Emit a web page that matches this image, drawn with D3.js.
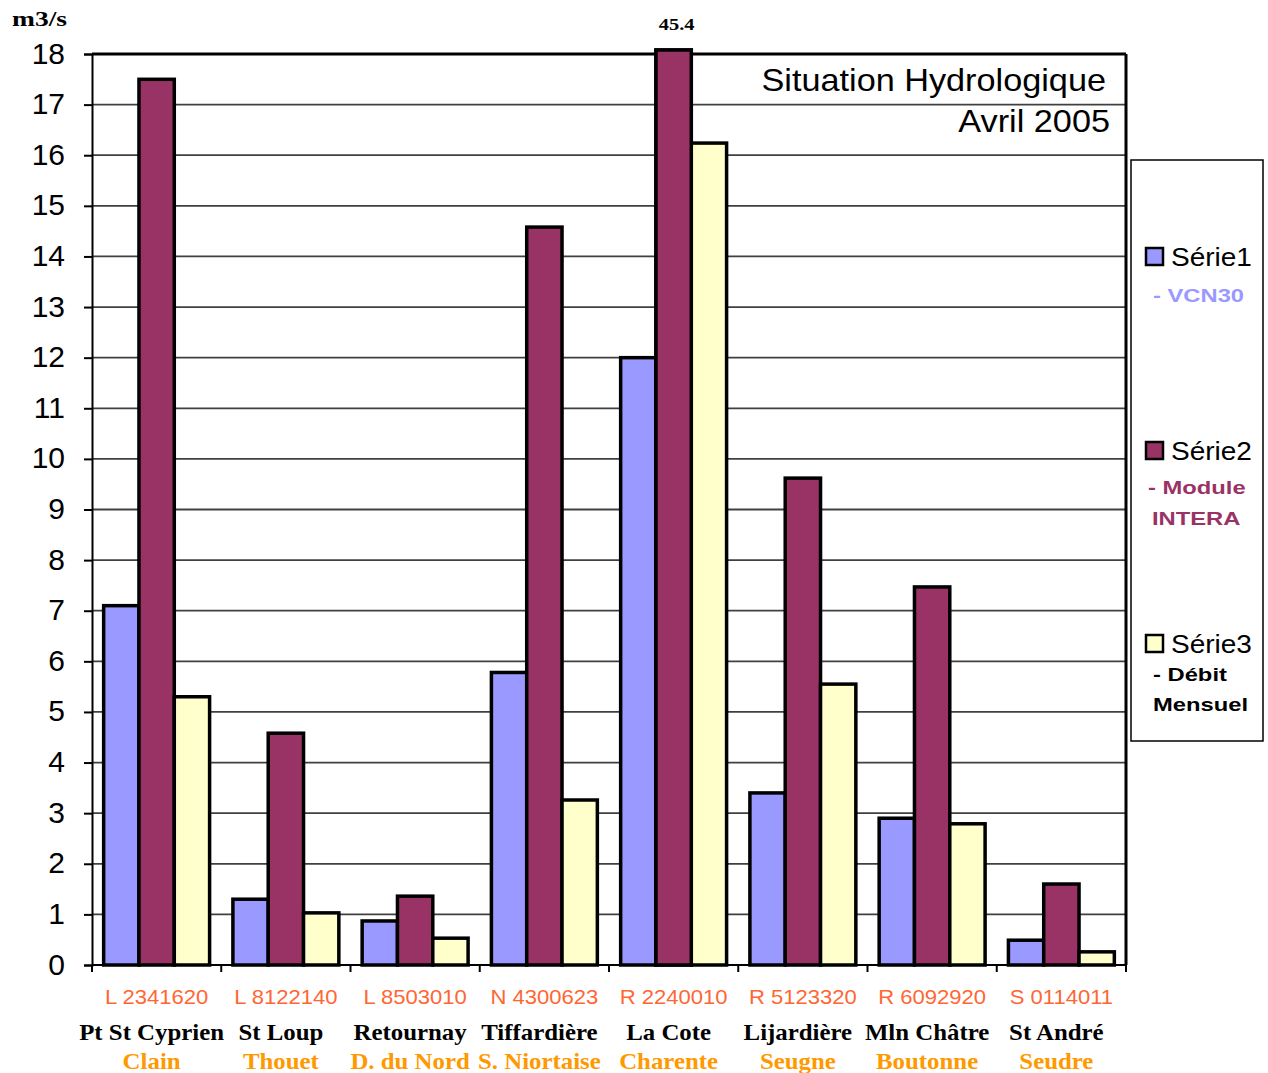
<!DOCTYPE html>
<html><head><meta charset="utf-8">
<script src="https://cdn.jsdelivr.net/npm/d3@7"></script>
<style>body{margin:0;background:#fff}svg{display:block}</style>
</head><body>
<script>
const codes = ["L 2341620","L 8122140","L 8503010","N 4300623","R 2240010","R 5123320","R 6092920","S 0114011"];
const stations = ["Pt St Cyprien","St Loup","Retournay","Tiffardière","La Cote","Lijardière","Mln Châtre","St André"];
const rivers = ["Clain","Thouet","D. du Nord","S. Niortaise","Charente","Seugne","Boutonne","Seudre"];
const serie1 = [7.1, 1.3, 0.87, 5.78, 12.0, 3.4, 2.9, 0.49];
const serie2 = [17.5, 4.58, 1.36, 14.58, 45.4, 9.62, 7.47, 1.6];
const serie3 = [5.3, 1.03, 0.53, 3.26, 16.24, 5.55, 2.79, 0.26];
const seriesNames = ["Série1","Série2","Série3"];
const yTicks = d3.range(0, 19, 1);

const W = 1268, H = 1073;
const m = {l: 92, r: 1126, t: 54, b: 965};
const colors = ["#9999ff", "#993366", "#ffffcc"];
const SANS = "Liberation Sans, Arial, sans-serif", SERIF = "Liberation Serif, Times New Roman, serif";
const svg = d3.select("body").append("svg").attr("width", W).attr("height", H);

function stretch(sel, f) {
  sel.each(function() {
    const L = this.getComputedTextLength();
    d3.select(this).attr("textLength", L * f).attr("lengthAdjust", "spacingAndGlyphs");
  });
  return sel;
}

const x = d3.scaleBand().domain(codes).range([m.l, m.r]).paddingInner(0).paddingOuter(0);
const y = d3.scaleLinear().domain([0, 18]).range([m.b, m.t]);
const xs = d3.scaleBand().domain([0,1,2]).range([0, x.bandwidth()]).paddingInner(0).paddingOuter(0.33);

// gridlines
svg.append("g").selectAll("line").data(yTicks.slice(1, -1)).join("line")
  .attr("x1", m.l).attr("x2", m.r).attr("y1", d => y(d)).attr("y2", d => y(d))
  .attr("stroke", "#404040").attr("stroke-width", 1.8);

// y axis
const yAxis = svg.append("g").attr("transform", `translate(${m.l},0)`)
  .call(d3.axisLeft(y).tickValues(yTicks).tickSize(8).tickPadding(19));
yAxis.select(".domain").attr("stroke", "#000").attr("stroke-width", 2);
yAxis.selectAll(".tick line").attr("stroke", "#000").attr("stroke-width", 2);
yAxis.selectAll(".tick text").attr("font-family", SANS).attr("font-size", 30).attr("fill", "#000").attr("dy", "0.3em");

// x axis ticks at category boundaries
svg.append("g").selectAll("line").data(d3.range(codes.length + 1)).join("line")
  .attr("x1", i => m.l + i * x.step()).attr("x2", i => m.l + i * x.step())
  .attr("y1", m.b).attr("y2", m.b + 7).attr("stroke", "#000").attr("stroke-width", 2);

// bars
const all = [serie1, serie2, serie3];
const gb = svg.append("g");
const over = [];
codes.forEach((c, i) => {
  all.forEach((s, k) => {
    const v = s[i];
    const top = Math.max(y(v), m.t - 4);
    gb.append("rect")
      .attr("x", x(c) + xs(k)).attr("width", xs.bandwidth())
      .attr("y", top).attr("height", m.b - top)
      .attr("fill", colors[k]).attr("stroke", "#000").attr("stroke-width", 3.5);
    if (v > 18) over.push({c, k, v});
  });
});

// frame
svg.append("line").attr("x1", m.l).attr("x2", m.r).attr("y1", m.t).attr("y2", m.t).attr("stroke", "#000").attr("stroke-width", 3);
svg.append("line").attr("x1", m.r).attr("x2", m.r).attr("y1", m.t).attr("y2", m.b).attr("stroke", "#000").attr("stroke-width", 3);
svg.append("line").attr("x1", m.l).attr("x2", m.r).attr("y1", m.b).attr("y2", m.b).attr("stroke", "#000").attr("stroke-width", 2);
// out-of-range bars on top of frame, with value label
over.forEach(o => {
  const top = m.t - 4;
  svg.append("rect").attr("x", x(o.c) + xs(o.k)).attr("width", xs.bandwidth())
    .attr("y", top).attr("height", m.b - top)
    .attr("fill", colors[o.k]).attr("stroke", "#000").attr("stroke-width", 3.5);
  stretch(svg.append("text").attr("x", x(o.c) + xs(o.k) + xs.bandwidth() / 2 + 3).attr("y", 30)
    .attr("text-anchor", "middle").attr("font-family", SERIF)
    .attr("font-weight", "bold").attr("font-size", 17).text(o.v), 1.2);
});

// unit
stretch(svg.append("text").attr("x", 12).attr("y", 26).attr("font-family", SERIF)
  .attr("font-weight", "bold").attr("font-size", 22).text("m3/s"), 1.25);

// title
stretch(svg.append("text").attr("x", 1106).attr("y", 91).attr("text-anchor", "end")
  .attr("font-family", SANS).attr("font-size", 32).text("Situation Hydrologique"), 1.07);
stretch(svg.append("text").attr("x", 1110).attr("y", 132).attr("text-anchor", "end")
  .attr("font-family", SANS).attr("font-size", 32).text("Avril 2005"), 1.07);

// x labels
const gx = svg.append("g");
codes.forEach((c, i) => {
  const cx = x(c) + x.bandwidth() / 2;
  stretch(gx.append("text").attr("x", cx).attr("y", 1004).attr("text-anchor", "middle")
    .attr("font-family", SANS).attr("font-size", 21).attr("fill", "#ff6633").text(c), 1.05);
  stretch(gx.append("text").attr("x", cx - 5).attr("y", 1040).attr("text-anchor", "middle")
    .attr("font-family", SERIF).attr("font-weight", "bold").attr("font-size", 23).attr("fill", "#000").text(stations[i]), 1.08);
  stretch(gx.append("text").attr("x", cx - 5).attr("y", 1069).attr("text-anchor", "middle")
    .attr("font-family", SERIF).attr("font-weight", "bold").attr("font-size", 23).attr("fill", "#ff9900").text(rivers[i]), 1.08);
});

// legend
const lg = svg.append("g");
lg.append("rect").attr("x", 1131).attr("y", 160).attr("width", 132).attr("height", 581)
  .attr("fill", "#fff").attr("stroke", "#000").attr("stroke-width", 1.5);
const legY = [257, 451, 644];
const subs = [
  [{t: "- VCN30", x: 1153, y: 302, c: "#9999ff"}],
  [{t: "- Module", x: 1148, y: 494, c: "#993366"}, {t: "INTERA", x: 1152, y: 525, c: "#993366"}],
  [{t: "- Débit", x: 1153, y: 681, c: "#000"}, {t: "Mensuel", x: 1153, y: 711, c: "#000"}]
];
seriesNames.forEach((n, k) => {
  lg.append("rect").attr("x", 1146).attr("y", legY[k] - 9).attr("width", 17).attr("height", 17)
    .attr("fill", colors[k]).attr("stroke", "#000").attr("stroke-width", 2.5);
  stretch(lg.append("text").attr("x", 1171).attr("y", legY[k] + 9)
    .attr("font-family", SANS).attr("font-size", 25).text(n), 1.12);
  subs[k].forEach(s => {
    stretch(lg.append("text").attr("x", s.x).attr("y", s.y).attr("font-family", SANS)
      .attr("font-weight", "bold").attr("font-size", 19).attr("fill", s.c).text(s.t), 1.25);
  });
});
</script>
</body></html>
